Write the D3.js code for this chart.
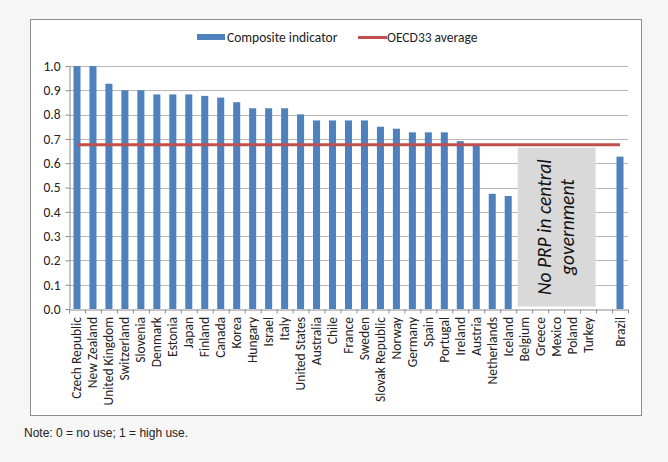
<!DOCTYPE html>
<html><head><meta charset="utf-8">
<script src="https://cdn.jsdelivr.net/npm/d3@7"></script>
<style>
body{margin:0;background:#f6f6f6;}
svg{display:block;}
</style></head>
<body>
<svg id="c" width="668" height="462"></svg>
<script>
const categories = ["Czech Republic","New Zealand","United Kingdom","Switzerland","Slovenia","Denmark","Estonia","Japan","Finland","Canada","Korea","Hungary","Israel","Italy","United States","Australia","Chile","France","Sweden","Slovak Republic","Norway","Germany","Spain","Portugal","Ireland","Austria","Netherlands","Iceland","Belgium","Greece","Mexico","Poland","Turkey","","Brazil"];
const compositeIndicator = [1.0,1.0,0.927,0.90,0.90,0.883,0.883,0.883,0.877,0.870,0.851,0.826,0.826,0.826,0.801,0.776,0.776,0.776,0.776,0.750,0.742,0.727,0.727,0.727,0.691,0.675,0.474,0.465,null,null,null,null,null,null,0.627];
const oecdAverage = 0.676;
const yTicks = [0,0.1,0.2,0.3,0.4,0.5,0.6,0.7,0.8,0.9,1.0];
const noPrpLines = ["No PRP in central","government"];
const legendLabels = ["Composite indicator","OECD33 average"];
const note = "Note: 0 = no use; 1 = high use.";

const svg = d3.select("#c");
const font = "Carlito, Lato, 'Open Sans', sans-serif";
const blue = "#4f81bd", red = "#c0504d";
const fs = 13.5;

// chart frame
svg.append("rect").attr("x",30.5).attr("y",19.5).attr("width",611).attr("height",396)
  .attr("fill","#fff").attr("stroke","#8c8c8c").attr("stroke-width",1);

const L = 69, R = 628, T = 66, B = 309;
const n = categories.length;
const x = d3.scaleBand().domain(d3.range(n)).range([L,R]).paddingInner(0.56).paddingOuter(0.28);
const xb = d3.scaleLinear().domain([0,n]).range([L,R]);
const y = d3.scaleLinear().domain([0,1]).range([B,T]);

// grid
svg.append("g").selectAll("line").data(yTicks.slice(1)).join("line")
  .attr("x1",L).attr("x2",R).attr("y1",d=>Math.round(y(d))+0.5).attr("y2",d=>Math.round(y(d))+0.5)
  .attr("stroke","#b8b8b8").attr("stroke-width",1);

// grey no-PRP box
const x0 = x(28) - 3, x1 = x(32) + x.bandwidth() + 4;
const bTop = y(0.664), bBot = y(0.01);
svg.append("rect").attr("x",x0).attr("y",bTop).attr("width",x1-x0).attr("height",bBot-bTop)
  .attr("fill","#d9d9d9");
const tg = svg.append("text").attr("transform",`translate(${x0+33},${(bTop+bBot)/2}) rotate(-90)`)
  .attr("text-anchor","middle").attr("font-family",font).attr("font-style","italic")
  .attr("font-size",19.5).attr("fill","#111");
noPrpLines.forEach((s,i)=>tg.append("tspan").attr("x",0).attr("dy", i===0 ? 0 : 23).text(s));

// bars
svg.append("g").selectAll("rect").data(compositeIndicator.map((v,i)=>({v,i})).filter(d=>d.v!=null)).join("rect")
  .attr("x",d=>x(d.i)).attr("width",x.bandwidth())
  .attr("y",d=>y(d.v)).attr("height",d=>y(0)-y(d.v)).attr("fill",blue);

// average line
svg.append("line").attr("x1",x(0)+x.bandwidth()/2).attr("x2",x(n-1)+x.bandwidth()/2)
  .attr("y1",y(oecdAverage)).attr("y2",y(oecdAverage)).attr("stroke",red).attr("stroke-width",3);

// y axis
const ya = svg.append("g").attr("transform",`translate(${L+0.5},0)`)
  .call(d3.axisLeft(y).tickValues(yTicks).tickFormat(d3.format(".1f")).tickSize(4).tickSizeOuter(0));
ya.select(".domain").attr("stroke","#8c8c8c");
ya.selectAll(".tick line").attr("stroke","#8c8c8c");
ya.selectAll("text").attr("font-family",font).attr("font-size",fs).attr("fill","#222").attr("dx",-2);

// x axis
const xa = svg.append("g").attr("transform",`translate(0,${B+0.5})`)
  .call(d3.axisBottom(xb).tickValues(d3.range(n+1)).tickFormat("").tickSize(4).tickSizeOuter(0));
xa.select(".domain").attr("stroke","#8c8c8c");
xa.selectAll(".tick line").attr("stroke","#8c8c8c");

svg.append("g").selectAll("text").data(categories).join("text")
  .attr("transform",(d,i)=>`translate(${x(i)+x.bandwidth()/2+4.5},${B+8}) rotate(-90)`)
  .attr("text-anchor","end").attr("font-family",font).attr("font-size",fs).attr("fill","#222")
  .text(d=>d);

// legend
const lg = svg.append("g").attr("font-family",font).attr("font-size",fs).attr("fill","#222");
lg.append("rect").attr("x",197).attr("y",34).attr("width",28).attr("height",6).attr("fill",blue);
lg.append("text").attr("x",227).attr("y",42).text(legendLabels[0]);
lg.append("line").attr("x1",358).attr("x2",387).attr("y1",37.5).attr("y2",37.5).attr("stroke",red).attr("stroke-width",3);
lg.append("text").attr("x",387).attr("y",42).text(legendLabels[1]);

// note
svg.append("text").attr("x",24).attr("y",437).attr("font-family","'Liberation Sans', Arial, sans-serif")
  .attr("font-size",12).attr("fill","#222").text(note);
</script>
</body></html>
